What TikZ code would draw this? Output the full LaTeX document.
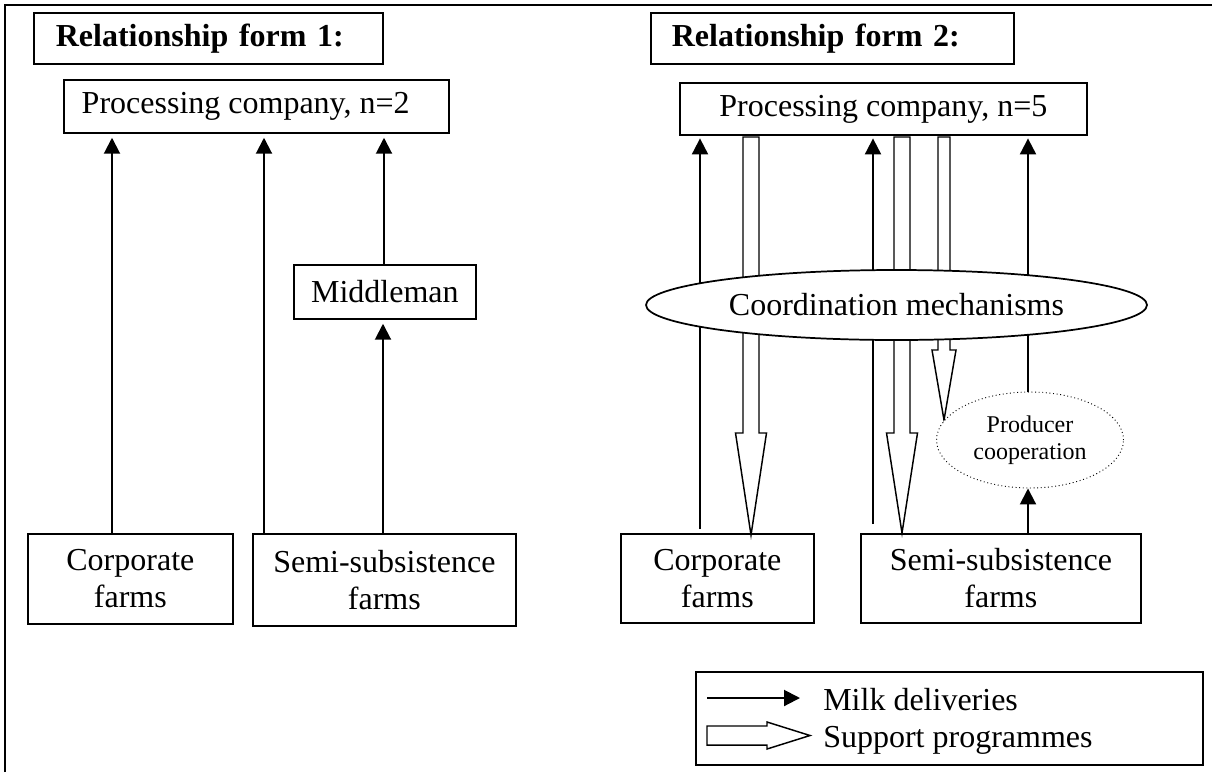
\documentclass[tikz,border=0pt]{standalone}
\usepackage{fontspec}
\setmainfont{Liberation Serif}
\usetikzlibrary{arrows.meta,shapes.geometric}

% hollow downward arrow: x, y top, y neck, y tip, shaft half width, head half width
\newcommand{\hollowdown}[6]{%
  \draw[hollow] (#1-#5,#2) -- (#1-#5,#3) -- (#1-#6,#3) -- (#1,#4) -- (#1+#6,#3)
    -- (#1+#5,#3) -- (#1+#5,#2) -- cycle;}

\tikzset{
  txt/.style={font=\fontsize{24pt}{28pt}\selectfont},
  box/.style={draw, line width=1.3pt, fill=white, inner sep=0pt, align=center, txt},
  head/.style={box, font=\bfseries\fontsize{24pt}{28pt}\selectfont, align=left},
  milk/.style={line width=1.5pt, -{Triangle[length=12pt,width=12pt]}},
  hollow/.style={draw, line width=1.1pt, fill=white, line join=miter},
  coord/.style={ellipse, draw, line width=1.3pt, fill=white, inner sep=0pt, txt},
  coop/.style={ellipse, draw, dotted, line width=0.7pt, fill=white, inner sep=0pt,
    align=center, font=\fontsize{18pt}{20pt}\selectfont},
}

\begin{document}
\begin{tikzpicture}[x=0.75pt,y=-0.75pt]
\useasboundingbox (0,0) rectangle (1212,772);

% outer frame, open on the right and at the bottom
\draw[line width=1.4pt] (5,772) -- (5,5) -- (1212,5);

% ---------- relationship form 1 ----------
\node[head, minimum width=261.75pt, minimum height=38.25pt, text width=228.75pt, anchor=north west]
  (h1) at (33,12) {Relationship form 1:};
\node[box, minimum width=288.75pt, minimum height=39.75pt, anchor=north west]
  (pc1) at (63,79) {Processing company, n=2\hspace*{16pt}};
\node[box, minimum width=136.5pt, minimum height=40.5pt, anchor=north west]
  (mid) at (293,264) {Middleman};
\node[box, minimum width=153.75pt, minimum height=67.5pt, anchor=north west]
  (cf1) at (27,533) {Corporate\\farms};
\node[box, minimum width=197.25pt, minimum height=69pt, anchor=north west]
  (ss1) at (252,533) {Semi-subsistence\\farms};

\draw[milk, shorten >=3pt] (cf1.north -| 112,0) -- (pc1.south -| 112,0);
\draw[milk, shorten >=3pt] (ss1.north -| 264,0) -- (pc1.south -| 264,0);
\draw[milk, shorten >=3pt] (mid.north -| 384,0) -- (pc1.south -| 384,0);
\draw[milk, shorten >=3pt] (ss1.north -| 383,0) -- (mid.south -| 383,0);

% ---------- relationship form 2 ----------
\node[head, minimum width=272.25pt, minimum height=38.25pt, text width=240.75pt, anchor=north west]
  (h2) at (650,12) {Relationship form 2:};
\node[box, minimum width=305.25pt, minimum height=39pt, anchor=north west]
  (pc2) at (679,82) {Processing company, n=5};
\node[box, minimum width=144.75pt, minimum height=66.75pt, anchor=north west]
  (cf2) at (620,533) {Corporate\\farms};
\node[box, minimum width=210pt, minimum height=66.75pt, anchor=north west]
  (ss2) at (860,533) {Semi-subsistence\\farms};

% milk deliveries
\coordinate (a0) at (700,529);
\coordinate (c0) at (873,524);
\draw[milk, shorten >=2pt] (a0) -- (pc2.south -| a0);
\draw[milk, shorten >=2pt] (c0) -- (pc2.south -| c0);

% support programmes
\hollowdown{751}{137}{433}{535}{8}{15.5}
\hollowdown{902}{137}{433}{533}{8}{15.5}
\hollowdown{944}{137}{350}{420}{6}{12}

\node[coop, minimum width=140.25pt, minimum height=72pt] (pco) at (1030,440) {Producer\\cooperation};
\draw[milk, shorten >=2pt] (pco.north -| 1028,0) -- (pc2.south -| 1028,0);
\node[coord, minimum width=375.75pt, minimum height=52.5pt] (cm) at (896.5,305) {Coordination mechanisms};
\draw[milk] (ss2.north -| 1028,0) -- (pco.south -| 1028,0);

% legend
\node[draw, line width=1.3pt, minimum width=380.25pt, minimum height=69.75pt, anchor=north west]
  (leg) at (695,671) {};
\coordinate (m0) at (707,698);
\coordinate (m1) at (800,698);
\draw[milk] (m0) -- (m1);
\node[anchor=base west, inner sep=0pt, txt] (lm) at (823,710) {Milk deliveries};
\draw[hollow] (707,726) -- (767,726) -- (767,722) -- (810,735.5) -- (767,749) -- (767,745) -- (707,745) -- cycle;
\node[anchor=base west, inner sep=0pt, txt] (ls) at (823,747) {Support programmes};
\end{tikzpicture}
\end{document}
